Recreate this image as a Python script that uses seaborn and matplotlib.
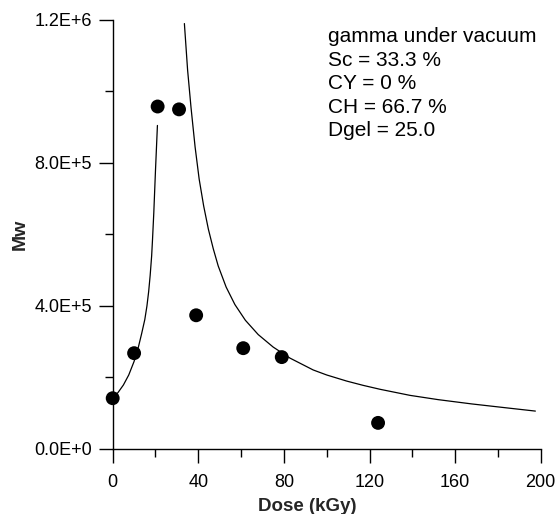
import matplotlib
matplotlib.use("Agg")
import matplotlib.pyplot as plt
import numpy as np
import pandas as pd
import seaborn as sns
from matplotlib.ticker import FuncFormatter, MultipleLocator

# measured points (dose in kGy, Mw)
dose = [0, 10, 21, 31, 39, 61, 79, 124]
mw = [1.42e5, 2.68e5, 9.58e5, 9.50e5, 3.74e5, 2.82e5, 2.57e5, 0.73e5]

# fitted curve below the gel dose
pre_dose = [0, 2.5, 5, 7.5, 10, 12, 13.5, 15, 16, 16.8, 17.5, 18.2, 18.6,
            19.2, 20.0, 20.9]
pre_mw = [1.42e5, 1.58e5, 1.79e5, 2.07e5, 2.45e5, 2.85e5, 3.22e5, 3.62e5,
          4.00e5, 4.40e5, 4.85e5, 5.40e5, 5.85e5, 6.60e5, 7.80e5, 9.05e5]

# fitted curve above the gel dose
post_dose = [33.5, 35, 36.6, 38.5, 40.4, 42.5, 44.7, 47, 49.3, 53, 57.1, 62,
             68, 75, 82.9, 93.7, 100, 109.3, 117, 124.9, 138.9, 152.1, 167.8,
             183.3, 197.5]
post_mw = [11.9e5, 10.6e5, 9.55e5, 8.45e5, 7.55e5, 6.8e5, 6.15e5, 5.6e5,
           5.12e5, 4.53e5, 4.04e5, 3.60e5, 3.20e5, 2.85e5, 2.54e5, 2.21e5,
           2.07e5, 1.90e5, 1.78e5, 1.67e5, 1.50e5, 1.38e5, 1.26e5, 1.155e5,
           1.06e5]

info = "gamma under vacuum\nSc = 33.3 %\nCY = 0 %\nCH = 66.7 %\nDgel = 25.0"

sns.set_style("ticks")
plt.rcParams["font.family"] = ["Liberation Sans", "DejaVu Sans"]

fig = plt.figure(figsize=(5.59, 5.14), dpi=100)
ax = fig.add_axes([0.2016, 0.1265, 0.7657, 0.8346])

pre = pd.DataFrame({"dose": pre_dose, "mw": pre_mw})
post = pd.DataFrame({"dose": post_dose, "mw": post_mw})
pts = pd.DataFrame({"dose": dose, "mw": mw})

sns.lineplot(data=pre, x="dose", y="mw", sort=False, estimator=None,
             color="black", linewidth=0.9, ax=ax)
sns.lineplot(data=post, x="dose", y="mw", sort=False, estimator=None,
             color="black", linewidth=0.9, ax=ax)
sns.scatterplot(data=pts, x="dose", y="mw", color="black", s=100,
                edgecolor="none", clip_on=False, zorder=3, ax=ax)

ax.set_xlim(0, 200)
ax.set_ylim(0, 1.2e6)
ax.xaxis.set_major_locator(MultipleLocator(40))
ax.xaxis.set_minor_locator(MultipleLocator(20))
ax.yaxis.set_major_locator(MultipleLocator(4e5))
ax.yaxis.set_minor_locator(MultipleLocator(2e5))


def sci(v, pos):
    if v == 0:
        return "0.0E+0"
    e = int(np.floor(np.log10(abs(v))))
    return f"{v / 10**e:.1f}E+{e}"


ax.yaxis.set_major_formatter(FuncFormatter(sci))
ax.tick_params(which="major", length=10, width=1, labelsize=13, pad=5,
               color="black", labelcolor="black")
ax.tick_params(axis="x", which="major", pad=8)
ax.tick_params(which="minor", length=5.5, width=1, color="black")

for side in ["top", "right"]:
    ax.spines[side].set_visible(False)
for side in ["left", "bottom"]:
    ax.spines[side].set_linewidth(1)
    ax.spines[side].set_color("black")

ax.set_xlabel("Dose (kGy)", fontsize=13.5, fontweight="bold")
ax.set_ylabel("Mw", fontsize=14, fontweight="bold")
ax.xaxis.set_label_coords(0.455, -0.115)
ax.yaxis.set_label_coords(-0.196, 0.5)

fig.text(0.587, 0.947, info, fontsize=15, va="top", ha="left",
         linespacing=1.3, color="black")

fig.savefig("out.png", dpi=100)
